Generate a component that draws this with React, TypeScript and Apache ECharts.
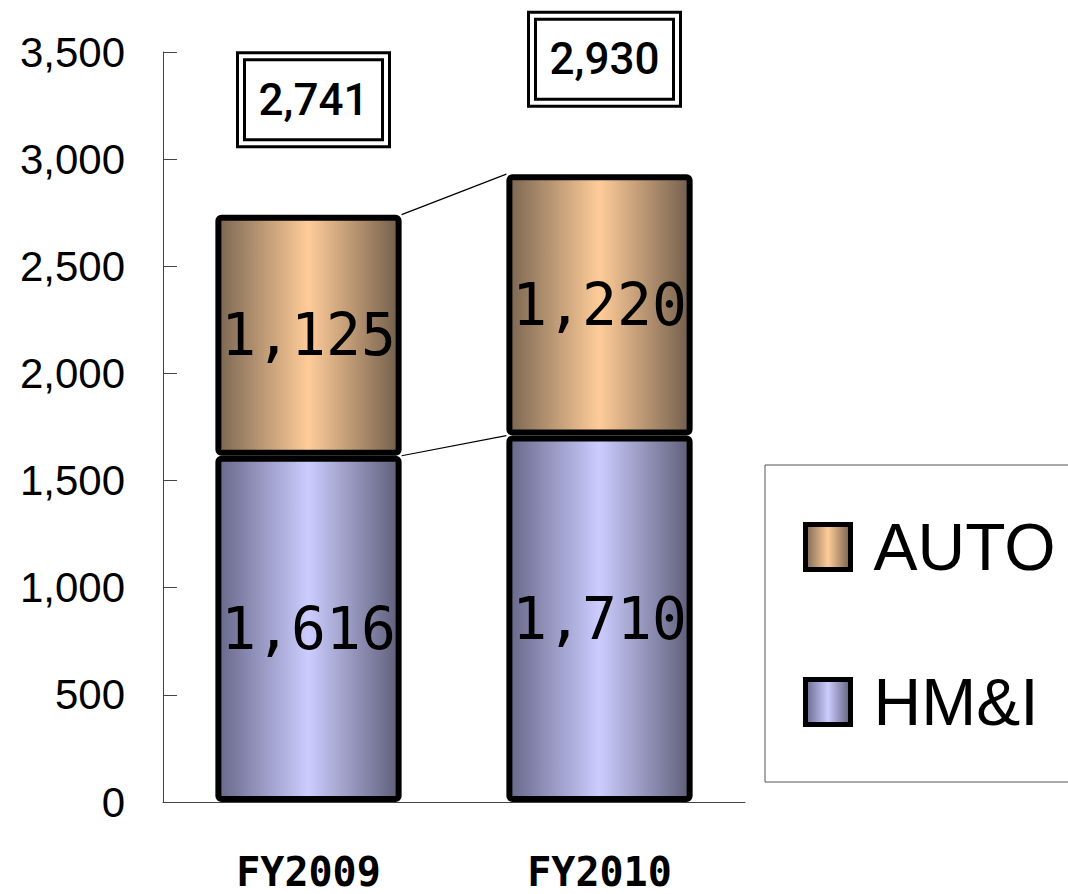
import React, { useEffect, useRef } from "react";
import * as echarts from "echarts";

const categories = ["FY2009", "FY2010"];
const hmiValues = [1616, 1710];
const autoValues = [1125, 1220];
const totals = [2741, 2930];
const yTicks = { min: 0, max: 3500, interval: 500 };

const fmt = (v: number) => v.toLocaleString("en-US");

const autoGrad = new echarts.graphic.LinearGradient(0, 0, 1, 0, [
  { offset: 0, color: "#7b6752" },
  { offset: 0.5, color: "#ffcc99" },
  { offset: 1, color: "#735f4c" },
]);
const hmiGrad = new echarts.graphic.LinearGradient(0, 0, 1, 0, [
  { offset: 0, color: "#68688a" },
  { offset: 0.5, color: "#ccccff" },
  { offset: 1, color: "#5f5f7a" },
]);

const BAR_RATIO = 0.64;

export default function App() {
  const ref = useRef<HTMLDivElement>(null);
  useEffect(() => {
    if (!ref.current) return;
    const chart = echarts.init(ref.current, undefined, { renderer: "svg" });
    const dataLabel = {
      show: true,
      position: "inside",
      fontFamily: "'DejaVu Sans Mono', monospace",
      fontSize: 58,
      color: "#000",
      formatter: (p: any) => fmt(p.value),
    };
    chart.setOption({
      animation: false,
      backgroundColor: "#fff",
      grid: { left: 163, width: 582, top: 52, height: 750 },
      legend: {
        data: ["AUTO", "HM&I"],
        orient: "vertical",
        left: 765,
        top: 465,
        padding: [49, 80, 47, 38],
        borderColor: "#555",
        borderWidth: 1,
        itemWidth: 45,
        itemHeight: 45,
        itemGap: 89,
        icon: "rect",
        itemStyle: { borderColor: "#000", borderWidth: 5 },
        textStyle: {
          fontFamily: "'Liberation Sans', Arial, sans-serif",
          fontSize: 66,
          lineHeight: 66,
          color: "#000",
          padding: [0, 0, 0, 18],
        },
      },
      xAxis: {
        type: "category",
        data: categories,
        axisLine: { lineStyle: { color: "#444", width: 1 } },
        axisTick: { inside: true, length: 14, lineStyle: { color: "#444" } },
        axisLabel: {
          margin: 50,
          fontFamily: "'DejaVu Sans Mono', monospace",
          fontWeight: "bold",
          fontSize: 40,
          color: "#000",
        },
      },
      yAxis: {
        type: "value",
        min: yTicks.min,
        max: yTicks.max,
        interval: yTicks.interval,
        splitLine: { show: false },
        axisLine: { show: true, lineStyle: { color: "#444", width: 1 } },
        axisTick: { show: true, inside: true, length: 14, lineStyle: { color: "#444" } },
        axisLabel: {
          margin: 38,
          padding: [10, 0, 0, 0],
          fontFamily: "'Liberation Sans', Arial, sans-serif",
          fontSize: 42,
          color: "#000",
          formatter: (v: number) => fmt(v),
        },
      },
      series: [
        {
          name: "connectors",
          type: "custom",
          z: 1,
          silent: true,
          data: [0],
          renderItem: (params: any, api: any) => {
            const half = (api.size([1, 0])[0] * BAR_RATIO) / 2;
            const t0 = api.coord([0, totals[0]]);
            const t1 = api.coord([1, totals[1]]);
            const h0 = api.coord([0, hmiValues[0]]);
            const h1 = api.coord([1, hmiValues[1]]);
            const ls = { stroke: "#000", lineWidth: 1.2 };
            return {
              type: "group",
              children: [
                { type: "line", shape: { x1: t0[0] + half, y1: t0[1], x2: t1[0] - half, y2: t1[1] }, style: ls },
                { type: "line", shape: { x1: h0[0] + half, y1: h0[1], x2: h1[0] - half, y2: h1[1] }, style: ls },
              ],
            };
          },
        },
        {
          name: "HM&I",
          type: "bar",
          stack: "total",
          barWidth: BAR_RATIO * 100 + "%",
          z: 2,
          data: hmiValues,
          itemStyle: { color: hmiGrad, borderColor: "#000", borderWidth: 6, borderRadius: 3 },
          label: dataLabel,
        },
        {
          name: "AUTO",
          type: "bar",
          stack: "total",
          barWidth: BAR_RATIO * 100 + "%",
          z: 2,
          data: autoValues,
          itemStyle: { color: autoGrad, borderColor: "#000", borderWidth: 6, borderRadius: 3 },
          label: dataLabel,
        },
        {
          name: "totals",
          type: "custom",
          z: 3,
          silent: true,
          data: totals.map((t, i) => [i, t]),
          renderItem: (params: any, api: any) => {
            const c = api.coord([api.value(0), api.value(1)]);
            const cx = c[0] + 5;
            const cy = c[1] - 115;
            const ow = 152, oh = 94, iw = 138, ih = 80;
            return {
              type: "group",
              children: [
                { type: "rect", shape: { x: cx - ow / 2, y: cy - oh / 2, width: ow, height: oh }, style: { fill: "#fff", stroke: "#000", lineWidth: 3 } },
                { type: "rect", shape: { x: cx - iw / 2, y: cy - ih / 2, width: iw, height: ih }, style: { fill: "#fff", stroke: "#000", lineWidth: 3 } },
                {
                  type: "text",
                  style: {
                    text: fmt(api.value(1)),
                    x: cx,
                    y: cy,
                    align: "center",
                    verticalAlign: "middle",
                    fontFamily: "Roboto, 'Liberation Sans', Arial, sans-serif",
                    fontWeight: 500,
                    fontSize: 44,
                    fill: "#000",
                  },
                },
              ],
            };
          },
        },
      ],
    });
    return () => chart.dispose();
  }, []);
  return (
    <div
      ref={ref}
      style={{ position: "fixed", left: 0, top: 0, width: 1068, height: 894 }}
    />
  );
}
